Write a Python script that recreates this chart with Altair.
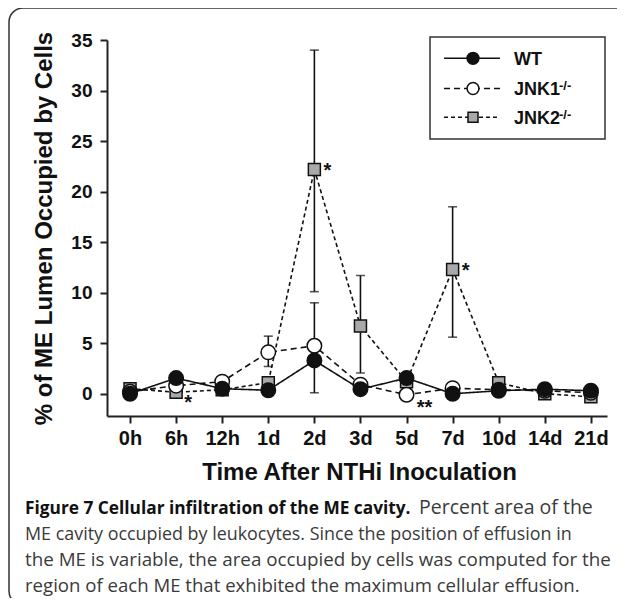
import altair as alt
import pandas as pd

# ---------------- data ----------------
categories = ["0h", "6h", "12h", "1d", "2d", "3d", "5d", "7d", "10d", "14d", "21d"]
series_names = ["WT", "JNK1", "JNK2"]
wt_values = [0.0, 1.55, 0.5, 0.35, 3.3, 0.45, 1.55, 0.0, 0.3, 0.45, 0.3]
jnk1_values = [0.2, 0.8, 1.2, 4.1, 4.75, 0.9, -0.1, 0.55, 0.4, 0.3, 0.1]
jnk2_values = [0.5, 0.15, 0.4, 1.1, 22.2, 6.7, 1.2, 12.3, 1.1, 0.0, -0.3]

err_series = ["JNK2", "JNK2", "JNK2", "JNK1", "JNK1"]
err_cats = ["2d", "3d", "7d", "1d", "2d"]
err_low = [10.1, 2.05, 5.6, 2.7, 0.1]
err_high = [34.0, 11.7, 18.5, 5.7, 9.0]

star_series = ["JNK2", "JNK2", "JNK2", "JNK1"]
star_cats = ["2d", "7d", "6h", "5d"]
star_text = ["*", "*", "*", "**"]

y_ticks = [0, 5, 10, 15, 20, 25, 30, 35]
x_title = "Time After NTHi Inoculation"
y_title = "% of ME Lumen Occupied by Cells"
sup_text = "-/-"
caption_bold = "Figure 7 Cellular infiltration of the ME cavity."
caption_lines = [
    "Percent area of the",
    "ME cavity occupied by leukocytes. Since the position of effusion in",
    "the ME is variable, the area occupied by cells was computed for the",
    "region of each ME that exhibited the maximum cellular effusion.",
]

# ---------------- tables ----------------
values_by_series = {"WT": wt_values, "JNK1": jnk1_values, "JNK2": jnk2_values}
rows = []
for s in series_names:
    for i, (c, v) in enumerate(zip(categories, values_by_series[s])):
        rows.append({"series": s, "cat": c, "idx": i, "value": v})
df = pd.DataFrame(rows)

val_lookup = {(r["series"], r["cat"]): r["value"] for r in rows}
err_df = pd.DataFrame({
    "series": err_series,
    "idx": [categories.index(c) for c in err_cats],
    "value": err_low,
    "hi": err_high,
})
err_caps = pd.concat([
    err_df[["idx", "value"]],
    err_df[["idx", "hi"]].rename(columns={"hi": "value"}),
])
star_df = pd.DataFrame({
    "series": star_series,
    "cat": star_cats,
    "idx": [categories.index(c) for c in star_cats],
    "value": [val_lookup[(s, c)] for s, c in zip(star_series, star_cats)],
    "text": star_text,
})

# ---------------- styles ----------------
INK = "#111111"
FONT = "Liberation Sans"
styles = {
    "WT": dict(dash=[1, 0], shape="circle", fill=INK, size=210, lsize=140),
    "JNK1": dict(dash=[6, 4], shape="circle", fill="white", size=210, lsize=140),
    "JNK2": dict(dash=[4, 3], shape="square", fill="#a9a9a9", size=144, lsize=100),
}

label_expr = "[" + ",".join("'%s'" % c for c in categories) + "][datum.value]"
xs = alt.Scale(domain=[-0.5, 10.35], nice=False, zero=False)
ys = alt.Scale(domain=[-2.2, 35], nice=False, zero=False)

x_axis = alt.Axis(values=list(range(len(categories))), labelExpr=label_expr,
                  labelFontSize=20, labelPadding=5,
                  titleFontSize=24, titleX=252, titleY=63,
                  titleBaseline="alphabetic", titleAlign="center")
y_axis = alt.Axis(values=y_ticks, labelFontSize=19, labelPadding=8,
                  titleFontSize=24, titleX=-63, titleY=188, titleAngle=270,
                  titleBaseline="middle", titleAlign="center")


def X():
    return alt.X("idx:Q", scale=xs, axis=x_axis, title=x_title)


def Y(field="value"):
    return alt.Y(f"{field}:Q", scale=ys, axis=y_axis, title=y_title)


layers = []

# lines
for s in ["JNK2", "JNK1", "WT"]:
    st = styles[s]
    layers.append(
        alt.Chart(df[df.series == s]).mark_line(
            color=INK, strokeWidth=1.6, strokeDash=st["dash"]
        ).encode(x=X(), y=Y(), order="idx:Q")
    )

# error bars
layers.append(
    alt.Chart(err_df).mark_rule(color=INK, strokeWidth=1.6).encode(
        x=X(), y=Y(), y2="hi:Q"
    )
)
layers.append(
    alt.Chart(err_caps).mark_tick(color=INK, orient="horizontal", size=9, thickness=1.6).encode(
        x=X(), y=Y()
    )
)

# markers
for s in ["JNK2", "JNK1", "WT"]:
    st = styles[s]
    layers.append(
        alt.Chart(df[df.series == s]).mark_point(
            shape=st["shape"], filled=True, fill=st["fill"], stroke=INK,
            strokeWidth=1.5, size=st["size"], opacity=1
        ).encode(x=X(), y=Y())
    )

# significance stars
star_offsets = {"2d": (13, 8), "7d": (13, 8), "6h": (12, 17), "5d": (18, 19)}
for c, (dx, dy) in star_offsets.items():
    layers.append(
        alt.Chart(star_df[star_df.cat == c]).mark_text(
            font=FONT, fontWeight="bold", fontSize=20, color=INK,
            dx=dx, dy=dy, align="center", baseline="alphabetic"
        ).encode(x=X(), y=Y(), text="text:N")
    )

# legend box
layers.append(
    alt.Chart(pd.DataFrame({"a": [0]})).mark_rect(
        fillOpacity=0, stroke="#333333", strokeWidth=1.5
    ).encode(x=alt.value(323), x2=alt.value(498), y=alt.value(-3), y2=alt.value(99))
)
legend_rows = [18.3, 48.5, 77.3]
for s, ry in zip(series_names, legend_rows):
    st = styles[s]
    one = pd.DataFrame({"series": [s], "sup": [sup_text]})
    layers.append(
        alt.Chart(one).mark_rule(color=INK, strokeWidth=1.6, strokeDash=st["dash"]).encode(
            x=alt.value(337), x2=alt.value(393), y=alt.value(ry)
        )
    )
    layers.append(
        alt.Chart(one).mark_point(
            shape=st["shape"], filled=True, fill=st["fill"], stroke=INK,
            strokeWidth=1.5, size=st["lsize"], opacity=1
        ).encode(x=alt.value(366), y=alt.value(ry))
    )
    layers.append(
        alt.Chart(one).mark_text(
            font=FONT, fontWeight="bold", fontSize=18, color=INK,
            align="left", baseline="alphabetic"
        ).encode(x=alt.value(407), y=alt.value(ry + 6.4), text="series:N")
    )
    if s != "WT":
        layers.append(
            alt.Chart(one).mark_text(
                font=FONT, fontWeight="bold", fontSize=13, color=INK,
                align="left", baseline="alphabetic"
            ).encode(x=alt.value(452), y=alt.value(ry + 1.5), text="sup:N")
        )

# caption
CAP_FONT = "Open Sans"
layers.append(
    alt.Chart(pd.DataFrame({"t": [caption_bold]})).mark_text(
        font=CAP_FONT, fontWeight="bold", fontSize=17.3, color="#111111",
        align="left", baseline="alphabetic"
    ).encode(x=alt.value(-82), y=alt.value(474), text="t:N")
)
cap_pos = [(312, 474, 19.5), (-82, 500, 17.9), (-82, 526, 18.8), (-82, 552, 18.6)]
for line, (cx, cy, fs) in zip(caption_lines, cap_pos):
    layers.append(
        alt.Chart(pd.DataFrame({"t": [line]})).mark_text(
            font=CAP_FONT, fontSize=fs, color="#3a3a3a",
            align="left", baseline="alphabetic"
        ).encode(x=alt.value(cx), y=alt.value(cy), text="t:N")
    )

# rounded frame
layers.append(
    alt.Chart(pd.DataFrame({"a": [0]})).mark_rect(
        fillOpacity=0, stroke="#333333", strokeWidth=1.5, cornerRadius=14
    ).encode(x=alt.value(-98), x2=alt.value(530), y=alt.value(-32), y2=alt.value(565))
)

chart = alt.layer(*layers).properties(
    width=500, height=376,
    padding={"left": 99, "top": 32, "right": 10, "bottom": 182},
    autosize=alt.AutoSizeParams(type="none"),
).configure_view(stroke="transparent").configure_axis(
    grid=False, domainColor="#222222", domainWidth=2, tickColor="#222222",
    tickWidth=2, tickSize=7, labelFont=FONT, labelFontWeight="bold",
    labelColor=INK, titleFont=FONT, titleFontWeight="bold", titleColor=INK,
)

chart.save("out.html", embed_options={"renderer": "svg", "actions": False})
